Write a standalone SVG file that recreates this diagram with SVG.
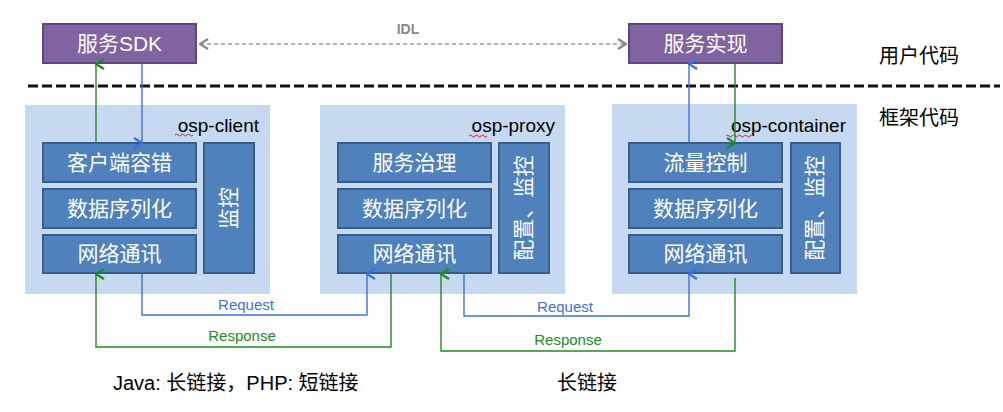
<svg xmlns="http://www.w3.org/2000/svg" width="1003" height="412" viewBox="0 0 1003 412">
<style>
.user{fill:#8064a2;stroke:#5c4680;stroke-width:2}
.cont{fill:#c6d9f0}
.box{fill:#4f81bd;stroke:#385d8a;stroke-width:2}
.wt{font-family:"Liberation Sans","Noto Sans CJK SC",sans-serif;font-size:21px;fill:#fff;text-anchor:middle}
.lbl{font-family:"Liberation Sans",sans-serif;font-size:19px;fill:#000;text-anchor:end}
.cjk{font-family:"Liberation Sans","Noto Sans CJK SC",sans-serif;font-size:20px;fill:#000}
.bl{fill:none;stroke:#3e6fe2;stroke-width:1.4}
.gr{fill:none;stroke:#218a21;stroke-width:1.4}
.sq{fill:none;stroke:#e02020;stroke-width:1}
.rq{font-family:"Liberation Sans",sans-serif;font-size:15px;text-anchor:middle}
</style>
<defs>
<marker id="ab" viewBox="0 0 12 10" refX="6" refY="1" markerWidth="12" markerHeight="10" markerUnits="userSpaceOnUse" orient="auto-start-reverse"><path d="M1,9 L6,1 L11,9" fill="none" stroke="#3e6fe2" stroke-width="2.4"/></marker>
<marker id="ag" viewBox="0 0 12 10" refX="6" refY="1" markerWidth="12" markerHeight="10" markerUnits="userSpaceOnUse" orient="auto-start-reverse"><path d="M1,9 L6,1 L11,9" fill="none" stroke="#218a21" stroke-width="2.4"/></marker>
<marker id="ay" viewBox="0 0 10 12" refX="9" refY="6" markerWidth="10" markerHeight="12" markerUnits="userSpaceOnUse" orient="auto-start-reverse"><path d="M1,1 L9,6 L1,11" fill="none" stroke="#8a8a8a" stroke-width="2.4"/></marker>
</defs>

<g id="user-sdk"><rect class="user" x="43" y="24" width="153" height="39"/><text class="wt" x="119.5" y="51">服务SDK</text></g>
<g id="user-impl"><rect class="user" x="629" y="24" width="153" height="39"/><text class="wt" x="705.5" y="51">服务实现</text></g>
<text x="408" y="34" font-family="Liberation Sans,sans-serif" font-size="14" font-weight="bold" fill="#888" text-anchor="middle">IDL</text>
<line x1="28" y1="86" x2="1000" y2="86" stroke="#111" stroke-width="3" stroke-dasharray="10 4"/>
<text class="cjk" x="879" y="63">用户代码</text>
<text class="cjk" x="879" y="125">框架代码</text>

<g id="osp-client">
<rect class="cont" x="25" y="105" width="245" height="189"/>
<text class="lbl" x="259" y="132">osp-client</text>
<path class="sq" d="M175,135 q1.5,-2 3,0 t3,0 t3,0 t3,0 t3,0 t3,0"/>
<rect class="box" x="43" y="143" width="153" height="39"/><text class="wt" x="119.5" y="170">客户端容错</text>
<rect class="box" x="43" y="189" width="153" height="39"/><text class="wt" x="119.5" y="216">数据序列化</text>
<rect class="box" x="43" y="235" width="153" height="38"/><text class="wt" x="119.5" y="261">网络通讯</text>
<rect class="box" x="204" y="143" width="50" height="130"/><text class="wt" transform="translate(236,208) rotate(-90)">监控</text>
</g>

<g id="osp-proxy">
<rect class="cont" x="320" y="105" width="245" height="189"/>
<text class="lbl" x="555" y="132">osp-proxy</text>
<path class="sq" d="M469,136 q1.5,-2 3,0 t3,0 t3,0 t3,0 t3,0 t3,0"/>
<rect class="box" x="338" y="143" width="153" height="39"/><text class="wt" x="414.5" y="170">服务治理</text>
<rect class="box" x="338" y="189" width="153" height="39"/><text class="wt" x="414.5" y="216">数据序列化</text>
<rect class="box" x="338" y="235" width="153" height="38"/><text class="wt" x="414.5" y="261">网络通讯</text>
<rect class="box" x="499" y="143" width="50" height="130"/><text class="wt" transform="translate(531,208) rotate(-90)">配置、监控</text>
</g>

<g id="osp-container">
<rect class="cont" x="612" y="104" width="245" height="190"/>
<text class="lbl" x="846" y="132">osp-container</text>
<path class="sq" d="M726,136 q1.5,-2 3,0 t3,0 t3,0 t3,0 t3,0 t3,0 t3,0 t3,0 t3,0"/>
<rect class="box" x="629" y="143" width="153" height="39"/><text class="wt" x="705.5" y="170">流量控制</text>
<rect class="box" x="629" y="189" width="153" height="39"/><text class="wt" x="705.5" y="216">数据序列化</text>
<rect class="box" x="629" y="235" width="153" height="38"/><text class="wt" x="705.5" y="261">网络通讯</text>
<rect class="box" x="791" y="143" width="49" height="130"/><text class="wt" transform="translate(822,208) rotate(-90)">配置、监控</text>
</g>

<g id="connectors">
<path d="M200,44 H626" fill="none" stroke="#9a9a9a" stroke-width="1.3" stroke-dasharray="4 3" marker-start="url(#ay)" marker-end="url(#ay)"/>
<path class="bl" d="M142,63 V143" marker-end="url(#ab)"/>
<path class="gr" d="M96,143 V64" marker-end="url(#ag)"/>
<path class="bl" d="M689,143 V64" marker-end="url(#ab)"/>
<path class="gr" d="M735,63 V143" marker-end="url(#ag)"/>
<path class="bl" d="M142,274 V315 H367 V274" marker-end="url(#ab)"/>
<path class="gr" d="M391,274 V347 H96 V274" marker-end="url(#ag)"/>
<path class="bl" d="M464,274 V316 H689 V274" marker-end="url(#ab)"/>
<path class="gr" d="M735,278 V351 H441 V274" marker-end="url(#ag)"/>
<text class="rq" x="246" y="310" fill="#3e6fe2">Request</text>
<text class="rq" x="242" y="341" fill="#218a21">Response</text>
<text class="rq" x="565" y="312" fill="#3e6fe2">Request</text>
<text class="rq" x="568" y="345" fill="#218a21">Response</text>
</g>

<text class="cjk" x="113" y="390" font-size="19">Java:  长链接，PHP: 短链接</text>
<text class="cjk" x="587" y="390" font-size="19" text-anchor="middle">长链接</text>
</svg>
